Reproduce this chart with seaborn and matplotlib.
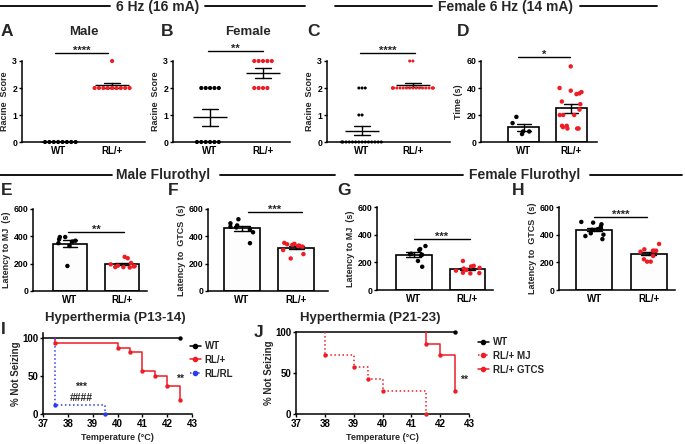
import warnings
import numpy as np
import pandas as pd
import matplotlib
matplotlib.use('Agg')
import matplotlib.pyplot as plt
from matplotlib.lines import Line2D
import seaborn as sns

warnings.filterwarnings('ignore')

W, H = 685, 444
RED = '#ee1c24'
BLUE = '#2a3cf0'
groups = ['WT', 'RL/+']
pal = {'WT': 'black', 'RL/+': RED}

# 6 Hz racine scores
a_wt = [0, 0, 0, 0, 0, 0, 0, 0]
a_rl = [3, 2, 2, 2, 2, 2, 2, 2, 2, 2]
b_wt = [2, 2, 2, 2, 2, 0, 0, 0, 0, 0, 0]
b_rl = [3, 3, 3, 3, 3, 2, 2, 2, 2]
c_wt = [2, 2, 2, 1, 1] + [0] * 14
c_rl = [3, 3] + [2] * 18
# time (s)
d_wt = [18.6, 14, 7.8, 7.8, 5.9]
d_rl = [56, 40, 38, 37, 36, 35.5, 30, 28, 24, 20, 20, 20, 12, 12, 11, 10, 10, 10]
# flurothyl latencies (s)
e_wt = [395, 395, 378, 368, 362, 350, 330, 183]
e_rl = [205, 240, 250, 175, 180, 182, 185, 175, 172, 195]
f_wt = [525, 495, 480, 470, 465, 450, 430, 350]
f_rl = [330, 332, 338, 342, 345, 325, 352, 300, 270, 238]
g_wt = [290, 296, 318, 262, 258, 255, 250, 210, 168]
g_rl = [170, 160, 210, 175, 122, 125, 120, 155, 145, 140]
h_wt = [492, 475, 487, 440, 445, 435, 410, 390, 368, 400, 458]
h_rl = [333, 284, 284, 277, 284, 294, 205, 222, 205, 246]

# hyperthermia survival curves
i_wt_t, i_wt_s = [37, 42.5], [100, 100]
i_rl_t = [37.5, 37.5, 40, 40.5, 41, 41.5, 42, 42.5]
i_rl_s = [100, 93.75, 87.5, 81.25, 56.25, 50, 37.5, 18.75]
i_rr_t = [37.5, 37.5, 39.5]
i_rr_s = [100, 12.5, 0]
j_wt_t, j_wt_s = [37, 42.5], [100, 100]
j_mj_t = [38, 38, 39, 39.5, 40, 41.5]
j_mj_s = [100, 71.4, 57.1, 42.9, 28.6, 0]
j_gt_t = [41.5, 41.5, 42, 42.5]
j_gt_s = [100, 85.7, 71.4, 28.6]

sns.set_style('ticks')
plt.rcParams['font.family'] = ['Liberation Sans', 'DejaVu Sans']
plt.rcParams['font.weight'] = 'bold'
plt.rcParams['axes.labelweight'] = 'bold'
plt.rcParams['axes.titleweight'] = 'bold'
np.random.seed(11)

fig = plt.figure(figsize=(W / 100, H / 100), dpi=100)


def px(x0, y0, x1, y1):
    return fig.add_axes([x0 / W, 1 - y1 / H, (x1 - x0) / W, (y1 - y0) / H])


def frame(wt, rl):
    return pd.DataFrame({'group': ['WT'] * len(wt) + ['RL/+'] * len(rl),
                         'val': list(wt) + list(rl)})


def style(ax, xlim, ylim, yticks, ylabel):
    ax.set_xlim(xlim)
    ax.set_ylim(ylim)
    ax.set_yticks(yticks)
    sns.despine(ax=ax)
    for s in ['left', 'bottom']:
        ax.spines[s].set_linewidth(1.1)
        ax.spines[s].set_color('black')
    ax.tick_params(axis='y', length=2.5, width=1.0, labelsize=6.3, pad=1, colors='black')
    ax.tick_params(axis='x', length=0, labelsize=7, pad=3, colors='black')
    ax.set_xlabel('')
    ax.set_ylabel(ylabel, fontsize=6.5, labelpad=2)


def sig(ax, x0, x1, y, text):
    ax.plot([x0, x1], [y, y], color='black', lw=1.0, clip_on=False)
    ax.annotate(text, xy=((x0 + x1) / 2, y), xytext=(0, -2), textcoords='offset points',
                ha='center', va='bottom', fontsize=8, annotation_clip=False)


def racine(ax, wt, rl, size=3):
    df = frame(wt, rl)
    sns.swarmplot(data=df, x='group', y='val', order=groups, hue='group', palette=pal,
                  size=size, legend=False, ax=ax, clip_on=False)
    sns.pointplot(data=df, x='group', y='val', order=groups, errorbar='se', capsize=0.3,
                  color='black', marker='_', markersize=24, markeredgewidth=1.0,
                  linestyle='none', err_kws={'linewidth': 1.0}, ax=ax)


def bars(ax, wt, rl):
    df = frame(wt, rl)
    sns.barplot(data=df, x='group', y='val', order=groups, errorbar=None, color='#fdfdfd',
                edgecolor='black', linewidth=1.2, width=0.66, ax=ax)
    sns.stripplot(data=df, x='group', y='val', order=groups, hue='group', palette=pal,
                  jitter=0.25, size=3.2, legend=False, ax=ax)
    sns.pointplot(data=df, x='group', y='val', order=groups, errorbar='se', capsize=0.28,
                  color='black', markersize=0, linestyle='none',
                  err_kws={'linewidth': 1.0}, ax=ax)


# ---- row 1 ----
axA = px(22, 61, 145, 142)
racine(axA, a_wt, a_rl)
style(axA, (-0.67, 1.61), (0, 3), [0, 1, 2, 3], 'Racine  Score')
sig(axA, -0.06, 0.93, 3.3, '****')

axB = px(173, 61, 290, 142)
racine(axB, b_wt, b_rl)
style(axB, (-0.70, 1.51), (0, 3), [0, 1, 2, 3], 'Racine  Score')
sig(axB, -0.04, 1.0, 3.38, '**')

axC = px(327, 61, 450, 142)
racine(axC, c_wt, c_rl, size=2.2)
style(axC, (-0.69, 1.73), (0, 3), [0, 1, 2, 3], 'Racine  Score')
sig(axC, -0.04, 1.04, 3.3, '****')

axD = px(481, 61, 597, 142)
bars(axD, d_wt, d_rl)
style(axD, (-0.91, 1.55), (0, 60), [0, 20, 40, 60], 'Time (s)')
sig(axD, -0.13, 0.98, 63, '*')

# ---- row 2 ----
axE = px(33, 209, 147, 291)
bars(axE, e_wt, e_rl)
style(axE, (-0.71, 1.48), (0, 600), [0, 200, 400, 600], 'Latency to MJ  (s)')
sig(axE, -0.04, 1.04, 433, '**')

axF = px(208, 209, 328, 291)
bars(axF, f_wt, f_rl)
style(axF, (-0.63, 1.59), (0, 600), [0, 200, 400, 600], 'Latency to  GTCS  (s)')
sig(axF, 0.11, 1.1, 580, '***')

axG = px(377, 207, 493, 290)
bars(axG, g_wt, g_rl)
style(axG, (-0.69, 1.48), (0, 600), [0, 200, 400, 600], 'Latency to MJ  (s)')
sig(axG, 0.0, 1.05, 369, '***')

axH = px(559, 207, 675, 290)
bars(axH, h_wt, h_rl)
style(axH, (-0.65, 1.48), (0, 600), [0, 200, 400, 600], 'Latency to  GTCS  (s)')
sig(axH, 0.0, 0.96, 528, '****')


# ---- row 3 ----
def km(ax, t, s, color, ls, mark_from=1):
    df = pd.DataFrame({'t': t, 's': s})
    sns.lineplot(data=df, x='t', y='s', color=color, linestyle=ls, linewidth=1.1,
                 drawstyle='steps-post', estimator=None, sort=False, ax=ax, clip_on=False)
    sns.scatterplot(data=df.iloc[mark_from:], x='t', y='s', color=color, s=10,
                    edgecolor=color, linewidth=0, ax=ax, clip_on=False, zorder=5)


def km_style(ax, ylim):
    ax.set_xlim(37, 43)
    ax.set_ylim(ylim)
    ax.set_xticks(range(37, 44))
    ax.set_yticks([0, 50, 100])
    sns.despine(ax=ax)
    for sp in ['left', 'bottom']:
        ax.spines[sp].set_linewidth(1.1)
        ax.spines[sp].set_color('black')
    ax.tick_params(length=2.5, width=1.0, labelsize=7, pad=1, colors='black')
    ax.set_xlabel('Temperature (°C)', fontsize=6.5, labelpad=3)
    ax.set_ylabel('% Not Seizing', fontsize=7, labelpad=1)


axI = px(43, 333, 192, 414)
km(axI, i_wt_t, i_wt_s, 'black', '-')
km(axI, i_rl_t, i_rl_s, RED, '-')
km(axI, i_rr_t, i_rr_s, BLUE, ':')
km_style(axI, (0, 107))
axI.text(38.55, 35.5, '***', ha='center', va='center', fontsize=7.5)
axI.text(38.55, 21, '####', ha='center', va='center', fontsize=7.5)
axI.text(42.5, 46, '**', ha='center', va='center', fontsize=7.5)
axI.legend(handles=[Line2D([], [], color='black', lw=1.1, marker='o', ms=3, label='WT'),
                    Line2D([], [], color=RED, lw=1.1, marker='o', ms=3, label='RL/+'),
                    Line2D([], [], color=BLUE, lw=1.1, ls=':', marker='o', ms=3, label='RL/RL')],
           loc='upper left', bbox_to_anchor=(190 / W, 1 - 341 / H), bbox_transform=fig.transFigure,
           frameon=False, fontsize=7, handlelength=1.1, handletextpad=0.4, labelspacing=0.4,
           borderaxespad=0, borderpad=0)

axJ = px(296, 332, 469, 414)
km(axJ, j_wt_t, j_wt_s, 'black', '-')
km(axJ, j_mj_t, j_mj_s, RED, ':')
km(axJ, j_gt_t, j_gt_s, RED, '-')
km_style(axJ, (0, 100))
axJ.text(42.83, 41.5, '**', ha='center', va='center', fontsize=7.5)
axJ.legend(handles=[Line2D([], [], color='black', lw=1.1, marker='o', ms=3, label='WT'),
                    Line2D([], [], color=RED, lw=1.1, ls=':', marker='o', ms=3, label='RL/+ MJ'),
                    Line2D([], [], color=RED, lw=1.1, marker='o', ms=3, label='RL/+ GTCS')],
           loc='upper left', bbox_to_anchor=(478 / W, 1 - 337 / H), bbox_transform=fig.transFigure,
           frameon=False, fontsize=7, handlelength=1.1, handletextpad=0.4, labelspacing=0.4,
           borderaxespad=0, borderpad=0)

# ---- headers, titles and panel letters ----
def ftext(x, y, s, size, ha='center'):
    fig.text(x / W, 1 - y / H, s, ha=ha, va='center', fontsize=size, fontweight='bold')


def fline(x0, x1, y):
    fig.add_artist(Line2D([x0 / W, x1 / W], [1 - y / H, 1 - y / H], color='black', lw=1.3,
                          transform=fig.transFigure))


fline(0, 110, 6); fline(205, 305, 6); fline(335, 432, 6); fline(580, 657, 6)
ftext(158, 7, '6 Hz (16 mA)', 10)
ftext(505, 7, 'Female 6 Hz (14 mA)', 10)
fline(0, 112, 175); fline(220, 335, 175); fline(355, 463, 175); fline(590, 682, 175)
ftext(163, 175, 'Male Flurothyl', 10)
ftext(525, 175, 'Female Flurothyl', 10)

ftext(84, 32, 'Male', 9.5)
ftext(248, 32, 'Female', 9.5)
ftext(115, 318, 'Hyperthermia (P13-14)', 9.5)
ftext(370, 318, 'Hyperthermia (P21-23)', 9.5)

for letter, x, y in [('A', 1, 32), ('B', 161, 32), ('C', 307, 32), ('D', 457, 32),
                     ('E', 1, 190), ('F', 168, 190), ('G', 337, 190), ('H', 512, 190),
                     ('I', 1, 330), ('J', 254, 332)]:
    ftext(x, y, letter, 12.5, ha='left')

fig.savefig('out.png', dpi=100)
